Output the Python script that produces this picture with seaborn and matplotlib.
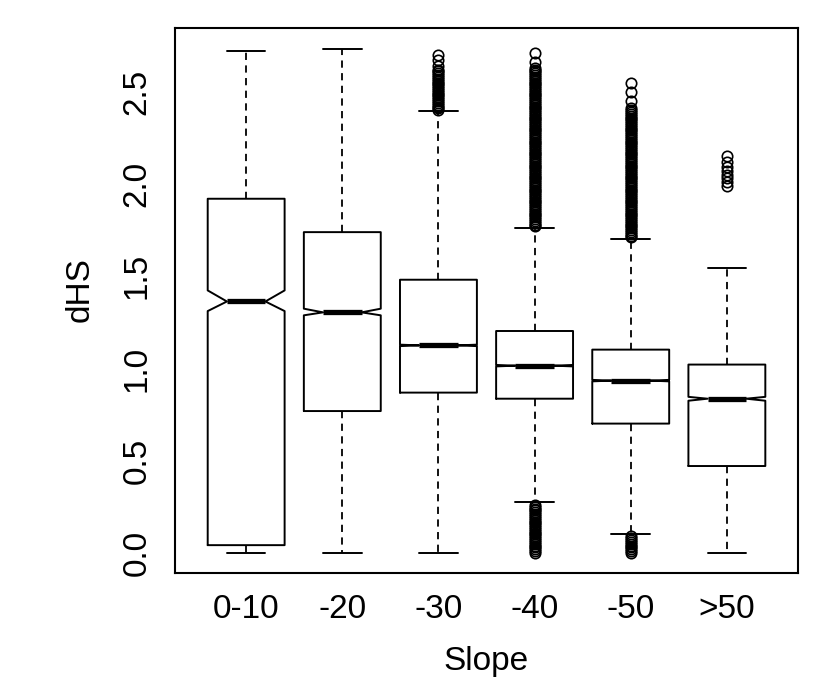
import matplotlib.pyplot as plt
import seaborn as sns

# boxplot summary (dHS by slope class)
slope_classes = ["0-10", "-20", "-30", "-40", "-50", ">50"]
whisker_low = [0.0, 0.0, 0.0, 0.276, 0.105, 0.0]
q1 = [0.042, 0.769, 0.869, 0.836, 0.701, 0.471]
median = [1.363, 1.304, 1.125, 1.015, 0.934, 0.836]
q3 = [1.920, 1.739, 1.481, 1.203, 1.102, 1.021]
whisker_high = [2.720, 2.734, 2.394, 1.763, 1.703, 1.542]
notch_low = [1.311, 1.288, 1.121, 1.011, 0.930, 0.825]
notch_high = [1.423, 1.324, 1.129, 1.019, 0.938, 0.846]

outliers_0_10 = []
outliers_20 = []
outliers_30 = [2.40, 2.41, 2.42, 2.43, 2.44, 2.45, 2.46, 2.47, 2.48, 2.49,
               2.50, 2.51, 2.52, 2.53, 2.54, 2.55, 2.56, 2.57, 2.58, 2.59,
               2.60, 2.61, 2.62, 2.64, 2.67, 2.70]
outliers_40 = [0.00, 0.01, 0.02, 0.03, 0.04, 0.05, 0.06, 0.07, 0.08, 0.09,
               0.10, 0.11, 0.12, 0.13, 0.14, 0.15, 0.16, 0.17, 0.18, 0.19,
               0.20, 0.21, 0.22, 0.23, 0.24, 0.25, 0.26,
               1.77, 1.78, 1.79, 1.80, 1.81, 1.82, 1.83, 1.84, 1.85, 1.86,
               1.87, 1.88, 1.89, 1.90, 1.91, 1.92, 1.93, 1.94, 1.95, 1.96,
               1.97, 1.98, 1.99, 2.00, 2.01, 2.02, 2.03, 2.04, 2.05, 2.06,
               2.07, 2.08, 2.09, 2.10, 2.11, 2.12, 2.13, 2.14, 2.15, 2.16,
               2.17, 2.18, 2.19, 2.20, 2.21, 2.22, 2.23, 2.24, 2.25, 2.26,
               2.27, 2.28, 2.29, 2.30, 2.31, 2.32, 2.33, 2.34, 2.35, 2.36,
               2.37, 2.38, 2.39, 2.40, 2.41, 2.42, 2.43, 2.44, 2.45, 2.46,
               2.47, 2.48, 2.49, 2.50, 2.51, 2.52, 2.53, 2.54, 2.55, 2.56,
               2.57, 2.58, 2.59, 2.60, 2.61, 2.62, 2.63, 2.66, 2.71]
outliers_50 = [0.00, 0.01, 0.02, 0.03, 0.04, 0.05, 0.06, 0.07, 0.08, 0.09,
               1.71, 1.72, 1.73, 1.74, 1.75, 1.76, 1.77, 1.78, 1.79, 1.80,
               1.81, 1.82, 1.83, 1.84, 1.85, 1.86, 1.87, 1.88, 1.89, 1.90,
               1.91, 1.92, 1.93, 1.94, 1.95, 1.96, 1.97, 1.98, 1.99, 2.00,
               2.01, 2.02, 2.03, 2.04, 2.05, 2.06, 2.07, 2.08, 2.09, 2.10,
               2.11, 2.12, 2.13, 2.14, 2.15, 2.16, 2.17, 2.18, 2.19, 2.20,
               2.21, 2.22, 2.23, 2.24, 2.25, 2.26, 2.27, 2.28, 2.29, 2.30,
               2.31, 2.32, 2.33, 2.34, 2.35, 2.36, 2.37, 2.38, 2.39, 2.40,
               2.41, 2.45, 2.50, 2.55]
outliers_gt50 = [1.99, 2.01, 2.03, 2.05, 2.07, 2.09, 2.12, 2.15]
outliers = [outliers_0_10, outliers_20, outliers_30,
            outliers_40, outliers_50, outliers_gt50]

y_ticks = [0.0, 0.5, 1.0, 1.5, 2.0, 2.5]

sns.set_style("white")
plt.rcParams["font.family"] = ["Liberation Sans", "DejaVu Sans"]

stats = []
for i, name in enumerate(slope_classes):
    stats.append({
        "label": name,
        "whislo": whisker_low[i],
        "q1": q1[i],
        "med": median[i],
        "q3": q3[i],
        "whishi": whisker_high[i],
        "cilo": notch_low[i],
        "cihi": notch_high[i],
        "fliers": outliers[i],
    })

fig = plt.figure(figsize=(8.33, 6.85), dpi=100)
ax = fig.add_axes([0.2101, 0.1635, 0.7479, 0.7949])

ax.bxp(
    stats,
    positions=range(1, len(slope_classes) + 1),
    widths=0.8,
    shownotches=True,
    boxprops=dict(color="black", linewidth=1.4),
    medianprops=dict(color="black", linewidth=3.8, solid_capstyle="butt"),
    whiskerprops=dict(color="black", linewidth=1.3, linestyle=(0, (4, 3))),
    capprops=dict(color="black", linewidth=1.4),
    flierprops=dict(marker="o", markerfacecolor="none", markeredgecolor="black",
                    markersize=7.5, markeredgewidth=1.2),
    manage_ticks=False,
)

ax.set_xlim(0.26, 6.74)
ax.set_ylim(-0.109, 2.843)
ax.set_xticks(range(1, len(slope_classes) + 1))
ax.set_xticklabels(slope_classes)
ax.set_yticks(y_ticks)
ax.set_yticklabels([f"{v:.1f}" for v in y_ticks], rotation=90, va="center")

for spine_position in ["top", "right", "bottom", "left"]:
    ax.spines[spine_position].set_visible(True)
    ax.spines[spine_position].set_color("black")
    ax.spines[spine_position].set_linewidth(1.5)

ax.tick_params(axis="both", direction="in", length=4.5, width=1.3,
               labelsize=24, colors="black")
ax.tick_params(axis="x", pad=15)
ax.tick_params(axis="y", pad=16)
ax.grid(False)

ax.set_xlabel("Slope", fontsize=24, color="black", va="center")
ax.set_ylabel("dHS", fontsize=24, color="black", va="center")
ax.xaxis.set_label_coords(0.5, -0.163)
ax.yaxis.set_label_coords(-0.153, 0.52)

fig.savefig("out.png", dpi=100, facecolor="white")
